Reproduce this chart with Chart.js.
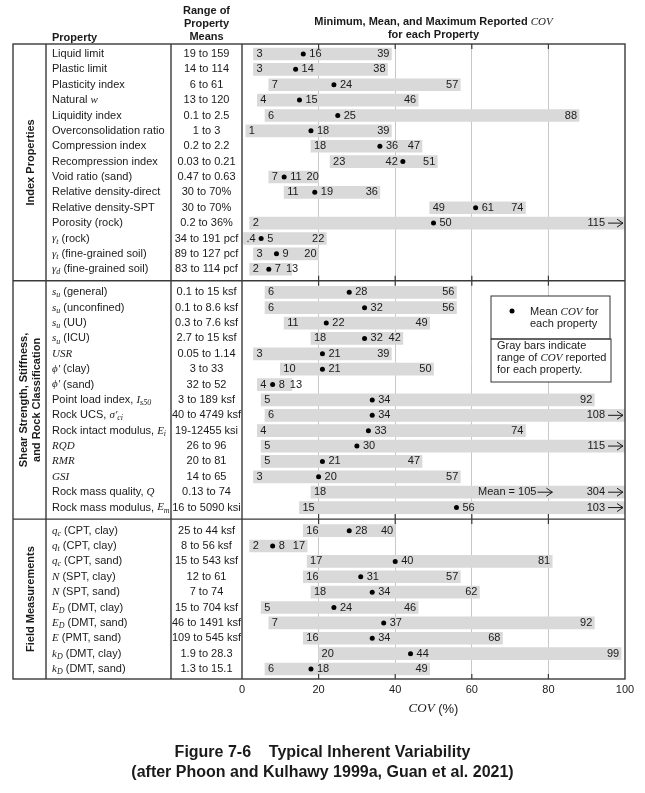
<!DOCTYPE html>
<html lang="en">
<head>
  <meta charset="UTF-8" />
  <title>Typical Inherent Variability</title>
  <script src="https://cdn.jsdelivr.net/npm/chart.js"></script>
  <style>
    html, body { margin: 0; padding: 0; background: #fff; }
    #wrap { position: relative; width: 645px; height: 793px; }
  </style>
</head>
<body>
  <div id="wrap"><canvas id="covChart"></canvas></div>

  <script>
    // section titles (rotated, one entry per text line)
    const sections = [
      ['Index Properties'],
      ['Shear Strength, Stiffness,', 'and Rock Classification'],
      ['Field Measurements']
    ];

    // *x* = italic symbol, _x_ = subscript
    const properties = [
      'Liquid limit', 'Plastic limit', 'Plasticity index', 'Natural *w*', 'Liquidity index',
      'Overconsolidation ratio', 'Compression index', 'Recompression index', 'Void ratio (sand)',
      'Relative density-direct', 'Relative density-SPT', 'Porosity (rock)',
      '*γ*_t_ (rock)', '*γ*_t_ (fine-grained soil)', '*γ*_d_ (fine-grained soil)',
      '*s*_u_ (general)', '*s*_u_ (unconfined)', '*s*_u_ (UU)', '*s*_u_ (ICU)', '*USR*',
      "*ϕ'* (clay)", "*ϕ'* (sand)", 'Point load index, *I*_s50_', "Rock UCS, *σ'*_ci_",
      'Rock intact modulus, *E*_i_', '*RQD*', '*RMR*', '*GSI*', 'Rock mass quality, *Q*',
      'Rock mass modulus, *E*_m_',
      '*q*_c_ (CPT, clay)', '*q*_t_ (CPT, clay)', '*q*_c_ (CPT, sand)', '*N* (SPT, clay)',
      '*N* (SPT, sand)', '*E*_D_ (DMT, clay)', '*E*_D_ (DMT, sand)', '*E* (PMT, sand)',
      '*k*_D_ (DMT, clay)', '*k*_D_ (DMT, sand)'
    ];
    const rowSection = [
      0, 0, 0, 0, 0, 0, 0, 0, 0, 0, 0, 0, 0, 0, 0,
      1, 1, 1, 1, 1, 1, 1, 1, 1, 1, 1, 1, 1, 1, 1,
      2, 2, 2, 2, 2, 2, 2, 2, 2, 2
    ];
    const meanRanges = [
      '19 to 159', '14 to 114', '6 to 61', '13 to 120', '0.1 to 2.5', '1 to 3', '0.2 to 2.2',
      '0.03 to 0.21', '0.47 to 0.63', '30 to 70%', '30 to 70%', '0.2 to 36%', '34 to 191 pcf',
      '89 to 127 pcf', '83 to 114 pcf',
      '0.1 to 15 ksf', '0.1 to 8.6 ksf', '0.3 to 7.6 ksf', '2.7 to 15 ksf', '0.05 to 1.14',
      '3 to 33', '32 to 52', '3 to 189 ksf', '40 to 4749 ksf', '19-12455 ksi', '26 to 96',
      '20 to 81', '14 to 65', '0.13 to 74', '16 to 5090 ksi',
      '25 to 44 ksf', '8 to 56 ksf', '15 to 543 ksf', '12 to 61', '7 to 74', '15 to 704 ksf',
      '46 to 1491 ksf', '109 to 545 ksf', '1.9 to 28.3', '1.3 to 15.1'
    ];
    const covMin = [
      3, 3, 7, 4, 6, 1, 18, 23, 7, 11, 49, 2, 0.4, 3, 2,
      6, 6, 11, 18, 3, 10, 4, 5, 6, 4, 5, 5, 3, 18, 15,
      16, 2, 17, 16, 18, 5, 7, 16, 20, 6
    ];
    const covMean = [
      16, 14, 24, 15, 25, 18, 36, 42, 11, 19, 61, 50, 5, 9, 7,
      28, 32, 22, 32, 21, 21, 8, 34, 34, 33, 30, 21, 20, 105, 56,
      28, 8, 40, 31, 34, 24, 37, 34, 44, 18
    ];
    const covMax = [
      39, 38, 57, 46, 88, 39, 47, 51, 20, 36, 74, 115, 22, 20, 13,
      56, 56, 49, 42, 39, 50, 13, 92, 108, 74, 115, 47, 57, 304, 103,
      40, 17, 81, 57, 62, 46, 92, 68, 99, 49
    ];
    const meanLabelOnLeft = [7];
    const xTicks = [0, 20, 40, 60, 80, 100];

    const sans = '"Liberation Sans", Arial, sans-serif';
    const serif = '"Liberation Serif", "Times New Roman", serif';
    const ink = '#1a1a1a';

    // row positions on the y scale, half a row extra between sections
    const rowPos = rowSection.map((s, i) => i + s * 0.5 + 0.65);
    const yMax = rowPos[rowPos.length - 1] + 0.65;
    const sectionBreaks = [];
    for (let i = 1; i < rowSection.length; i++) {
      if (rowSection[i] !== rowSection[i - 1]) sectionBreaks.push((rowPos[i] + rowPos[i - 1]) / 2);
    }

    function parseRich(str) {
      const out = [];
      const re = /\*([^*]+)\*|_([^_]+)_|([^*_]+)/g;
      let m;
      while ((m = re.exec(str))) {
        if (m[1]) out.push({ t: m[1], k: 'i' });
        else if (m[2]) out.push({ t: m[2], k: 's' });
        else out.push({ t: m[3], k: 'n' });
      }
      return out;
    }

    function partFont(k, size, bold) {
      if (k === 'i') return 'italic ' + size + 'px ' + serif;
      if (k === 's') return 'italic ' + Math.round(size * 0.72) + 'px ' + serif;
      return (bold ? 'bold ' : '') + size + 'px ' + sans;
    }

    function drawRich(ctx, str, x, y, size, bold, align) {
      const parts = parseRich(str);
      let w = 0;
      parts.forEach(p => { ctx.font = partFont(p.k, size, bold); p.w = ctx.measureText(p.t).width; w += p.w; });
      let cx = align === 'center' ? x - w / 2 : align === 'right' ? x - w : x;
      ctx.textAlign = 'left';
      ctx.textBaseline = 'middle';
      parts.forEach(p => {
        ctx.font = partFont(p.k, size, bold);
        ctx.fillText(p.t, cx, p.k === 's' ? y + 3 : y);
        cx += p.w;
      });
    }

    function drawArrow(ctx, x1, x2, y) {
      ctx.beginPath();
      ctx.moveTo(x1, y); ctx.lineTo(x2, y);
      ctx.moveTo(x2 - 6, y - 4); ctx.lineTo(x2, y); ctx.lineTo(x2 - 6, y + 4);
      ctx.lineWidth = 1;
      ctx.strokeStyle = ink;
      ctx.stroke();
    }

    const fmt = v => String(v).replace(/^0\./, '.');

    const tablePlugin = {
      id: 'tablePlugin',
      afterDraw(chart) {
        const ctx = chart.ctx;
        const area = chart.chartArea;
        const xs = chart.scales.x;
        const ys = chart.scales.y;
        const L = 13, c1 = 46, c2 = 171, R = area.right;
        ctx.save();
        ctx.fillStyle = ink;

        // headers
        drawRich(ctx, 'Property', 52, 38, 11, true, 'left');
        drawRich(ctx, 'Range of', (c2 + area.left) / 2, 11, 11, true, 'center');
        drawRich(ctx, 'Property', (c2 + area.left) / 2, 24, 11, true, 'center');
        drawRich(ctx, 'Means', (c2 + area.left) / 2, 37, 11, true, 'center');
        const mid = (area.left + area.right) / 2;
        drawRich(ctx, 'Minimum, Mean, and Maximum Reported *COV*', mid, 22, 11, true, 'center');
        drawRich(ctx, 'for each Property', mid, 35, 11, true, 'center');

        // table lines
        ctx.strokeStyle = '#3a3a3a';
        ctx.lineWidth = 1.4;
        ctx.strokeRect(L, area.top, R - L, area.bottom - area.top);
        ctx.beginPath();
        [c1, c2, area.left].forEach(x => { ctx.moveTo(x, area.top); ctx.lineTo(x, area.bottom); });
        sectionBreaks.forEach(b => { const y = ys.getPixelForValue(b); ctx.moveTo(L, y); ctx.lineTo(R, y); });
        ctx.stroke();
        ctx.beginPath();
        ctx.lineWidth = 1.2;
        xTicks.slice(1, -1).forEach(v => {
          const x = xs.getPixelForValue(v);
          ctx.moveTo(x, area.top); ctx.lineTo(x, area.top + 5);
          ctx.moveTo(x, area.bottom); ctx.lineTo(x, area.bottom - 5);
          sectionBreaks.forEach(b => { const y = ys.getPixelForValue(b); ctx.moveTo(x, y - 5); ctx.lineTo(x, y + 5); });
        });
        ctx.stroke();

        // section titles
        const bounds = [area.top].concat(sectionBreaks.map(b => ys.getPixelForValue(b)), [area.bottom]);
        sections.forEach((lines, s) => {
          const yc = (bounds[s] + bounds[s + 1]) / 2;
          ctx.save();
          ctx.translate((L + c1) / 2 + 1, yc);
          ctx.rotate(-Math.PI / 2);
          lines.forEach((t, k) => drawRich(ctx, t, 0, (k - (lines.length - 1) / 2) * 13.5, 11, true, 'center'));
          ctx.restore();
        });

        // property rows
        rowPos.forEach((p, i) => {
          const y = ys.getPixelForValue(p);
          drawRich(ctx, properties[i], 52, y, 11, false, 'left');
          drawRich(ctx, meanRanges[i], (c2 + area.left) / 2, y, 11, false, 'center');

          ctx.font = '11px ' + sans;
          ctx.textBaseline = 'middle';
          ctx.fillStyle = ink;
          const x0 = xs.getPixelForValue(covMin[i]);
          const xm = xs.getPixelForValue(covMean[i]);
          const x1 = xs.getPixelForValue(Math.min(covMax[i], 100));
          ctx.textAlign = 'left';
          ctx.fillText(fmt(covMin[i]), x0 + 3, y);

          let meanRight;
          const mt = String(covMean[i]);
          if (covMean[i] > 100) {
            const xe = xs.getPixelForValue(80) - 12;
            ctx.textAlign = 'right';
            ctx.fillText('Mean = ' + mt, xe, y);
            drawArrow(ctx, xe + 1, xe + 16, y);
            meanRight = xe + 16;
          } else if (meanLabelOnLeft.includes(i)) {
            ctx.textAlign = 'right';
            ctx.fillText(mt, xm - 5, y);
            meanRight = xm + 3;
          } else {
            ctx.textAlign = 'left';
            ctx.fillText(mt, xm + 6, y);
            meanRight = xm + 6 + ctx.measureText(mt).width;
          }

          const xt = String(covMax[i]);
          ctx.textAlign = 'left';
          if (covMax[i] > 100) {
            ctx.textAlign = 'right';
            ctx.fillText(xt, R - 20, y);
            drawArrow(ctx, R - 17, R - 2, y);
          } else {
            let left = x1 - 2 - ctx.measureText(xt).width;
            if (left < meanRight + 4) left = meanRight + 5;
            ctx.fillText(xt, left, y);
          }
        });

        // x axis labels
        ctx.font = '11px ' + sans;
        ctx.textAlign = 'center';
        ctx.textBaseline = 'middle';
        xTicks.forEach(v => ctx.fillText(String(v), xs.getPixelForValue(v), area.bottom + 11));
        drawRich(ctx, '*COV* (%)', mid, area.bottom + 30, 13, false, 'center');

        // legend boxes
        const bx = 491, bw = 119;
        ctx.fillStyle = '#fff';
        ctx.fillRect(bx, 296, bw, 86);
        ctx.strokeStyle = '#333';
        ctx.lineWidth = 1;
        ctx.strokeRect(bx, 296, bw, 43);
        ctx.strokeRect(bx, 339, bw + 1, 43);
        ctx.fillStyle = '#000';
        ctx.beginPath();
        ctx.arc(512, 311, 2.5, 0, Math.PI * 2);
        ctx.fill();
        ctx.fillStyle = ink;
        drawRich(ctx, 'Mean *COV* for', 530, 312, 11, false, 'left');
        drawRich(ctx, 'each property', 530, 324, 11, false, 'left');
        drawRich(ctx, 'Gray bars indicate', 497, 346, 11, false, 'left');
        drawRich(ctx, 'range of *COV* reported', 497, 358, 11, false, 'left');
        drawRich(ctx, 'for each property.', 497, 370, 11, false, 'left');

        // caption
        drawRich(ctx, 'Figure 7-6    Typical Inherent Variability', 322.5, 753, 16, true, 'center');
        drawRich(ctx, '(after Phoon and Kulhawy 1999a, Guan et al. 2021)', 322.5, 773, 16, true, 'center');
        ctx.restore();
      }
    };

    new Chart(document.getElementById('covChart'), {
      type: 'bar',
      data: {
        datasets: [
          {
            type: 'scatter',
            data: rowPos.map((p, i) => ({ x: covMean[i], y: p })),
            pointRadius: 2.5,
            pointHoverRadius: 2.5,
            pointBackgroundColor: '#000',
            pointBorderWidth: 0,
            clip: 0,
            order: 1
          },
          {
            type: 'bar',
            data: rowPos.map((p, i) => ({ y: p, x: [covMin[i], covMax[i]] })),
            backgroundColor: '#d9d9d9',
            borderWidth: 0,
            barThickness: 12,
            clip: 0,
            order: 2
          }
        ]
      },
      options: {
        indexAxis: 'y',
        responsive: true,
        maintainAspectRatio: false,
        animation: false,
        layout: { padding: { left: 242, right: 20, top: 44, bottom: 114 } },
        plugins: { legend: { display: false }, tooltip: { enabled: false } },
        scales: {
          x: {
            type: 'linear', min: 0, max: 100, position: 'bottom',
            afterBuildTicks: s => { s.ticks = xTicks.map(v => ({ value: v })); },
            ticks: { display: false },
            grid: {
              drawTicks: false,
              lineWidth: 1,
              color: c => (c.tick && (c.tick.value === 0 || c.tick.value === 100)) ? 'rgba(0,0,0,0)' : '#c8c8c8'
            },
            border: { display: false }
          },
          y: { type: 'linear', min: 0, max: yMax, reverse: true, offset: false, display: false }
        }
      },
      plugins: [tablePlugin]
    });
  </script>
</body>
</html>
